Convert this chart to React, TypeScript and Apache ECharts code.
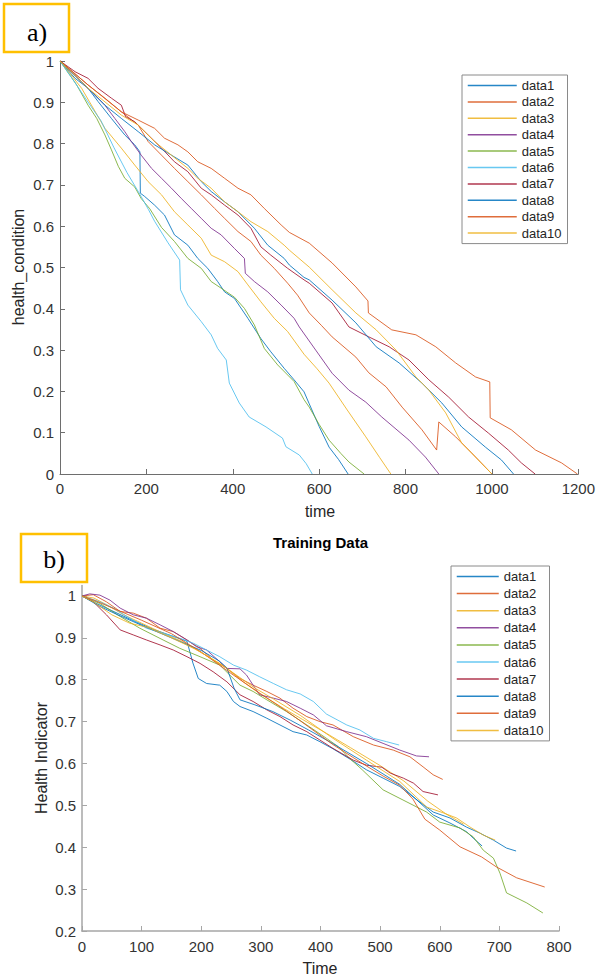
import React, { useEffect, useRef } from 'react';
import * as echarts from 'echarts';

const FONT = "'Liberation Sans', Arial, Helvetica, sans-serif";
const SERIF = "'Liberation Serif', 'DejaVu Serif', serif";
const COLORS = ['#0072BD', '#D95319', '#EDB120', '#7E2F8E', '#77AC30', '#4DBEEE', '#A2142F', '#0072BD', '#D95319', '#EDB120'];
const NAMES = ['data1', 'data2', 'data3', 'data4', 'data5', 'data6', 'data7', 'data8', 'data9', 'data10'];

const bottomYTicks = [0.2, 0.3, 0.4, 0.5, 0.6, 0.7, 0.8, 0.9, 1.0];

// ---------- panel a) ----------
const topData1 = [[0,1],[35,0.958],[65,0.934],[88,0.902],[119,0.861],[150,0.821],[173,0.797],[185,0.780],[186,0.680],[196,0.672],[219,0.651],[242,0.627],[265,0.579],[296,0.554],[319,0.522],[342,0.498],[365,0.466],[381,0.441],[404,0.425],[435,0.377],[465,0.328],[488,0.296],[519,0.256],[542,0.228],[565,0.199],[577,0.170],[600,0.115],[623,0.065],[645,0.035],[667,0]];
const topData2 = [[0,1],[65,0.942],[142,0.877],[181,0.845],[204,0.805],[235,0.772],[265,0.740],[296,0.708],[327,0.676],[358,0.643],[381,0.619],[412,0.587],[442,0.563],[465,0.530],[496,0.498],[527,0.462],[550,0.433],[577,0.390],[605,0.360],[630,0.332],[685,0.283],[715,0.245],[755,0.211],[792,0.162],[838,0.107],[872,0.058],[877,0.126],[916,0.090],[953,0.051],[1000,0]];
const topData3 = [[0,1],[50,0.934],[104,0.837],[142,0.789],[173,0.748],[204,0.708],[235,0.676],[265,0.635],[296,0.603],[327,0.571],[350,0.530],[381,0.514],[412,0.490],[435,0.458],[465,0.417],[496,0.377],[527,0.345],[565,0.290],[595,0.255],[623,0.220],[665,0.155],[708,0.090],[740,0.040],[766,0]];
const topData4 = [[0,1],[65,0.934],[104,0.893],[127,0.861],[150,0.829],[165,0.805],[188,0.772],[212,0.740],[235,0.716],[258,0.692],[281,0.667],[304,0.643],[327,0.619],[350,0.595],[373,0.579],[404,0.546],[427,0.522],[429,0.486],[450,0.466],[481,0.441],[512,0.409],[542,0.377],[554,0.356],[592,0.300],[630,0.244],[669,0.203],[708,0.174],[745,0.138],[808,0.082],[846,0.041],[877,0]];
const topData5 = [[0,1],[38,0.943],[65,0.893],[85,0.861],[104,0.821],[119,0.785],[135,0.745],[150,0.716],[173,0.695],[188,0.667],[208,0.642],[235,0.597],[265,0.563],[296,0.522],[327,0.498],[350,0.466],[373,0.450],[404,0.428],[427,0.401],[450,0.361],[473,0.304],[504,0.264],[542,0.224],[565,0.180],[577,0.162],[600,0.120],[623,0.082],[650,0.050],[669,0.029],[704,0]];
const topData6 = [[0,1],[30,0.955],[62,0.905],[95,0.855],[125,0.790],[155,0.730],[185,0.677],[205,0.640],[219,0.612],[250,0.560],[277,0.518],[279,0.446],[296,0.409],[327,0.369],[350,0.337],[365,0.304],[385,0.276],[392,0.220],[415,0.172],[438,0.138],[477,0.114],[515,0.087],[523,0.066],[554,0.046],[570,0.025],[584,0]];
const topData7 = [[0,1],[35,0.974],[65,0.958],[88,0.934],[119,0.910],[142,0.893],[152,0.865],[173,0.853],[204,0.821],[235,0.789],[265,0.756],[296,0.732],[327,0.692],[350,0.676],[381,0.651],[412,0.627],[442,0.595],[465,0.550],[488,0.530],[527,0.498],[565,0.470],[577,0.462],[630,0.414],[669,0.356],[715,0.332],[762,0.308],[808,0.276],[854,0.228],[900,0.186],[946,0.138],[992,0.099],[1038,0.058],[1068,0.027],[1100,0]];
const topData8 = [[0,1],[65,0.934],[104,0.893],[142,0.861],[181,0.829],[219,0.797],[258,0.772],[296,0.748],[327,0.708],[350,0.684],[381,0.659],[412,0.635],[450,0.595],[481,0.554],[519,0.522],[531,0.506],[565,0.476],[577,0.470],[630,0.421],[685,0.366],[732,0.308],[785,0.269],[838,0.220],[884,0.172],[930,0.114],[985,0.065],[1022,0.034],[1050,0]];
const topData9 = [[0,1],[65,0.942],[104,0.910],[142,0.877],[181,0.857],[219,0.837],[242,0.813],[273,0.797],[296,0.780],[319,0.756],[350,0.740],[381,0.716],[412,0.692],[442,0.676],[473,0.643],[512,0.603],[531,0.585],[577,0.559],[630,0.511],[685,0.453],[713,0.419],[714,0.390],[768,0.349],[824,0.337],[870,0.308],[916,0.269],[962,0.235],[995,0.223],[996,0.136],[1045,0.107],[1101,0.058],[1161,0.027],[1198,0]];
const topData10 = [[0,1],[65,0.934],[142,0.869],[181,0.845],[219,0.805],[258,0.772],[296,0.740],[319,0.716],[350,0.692],[381,0.659],[412,0.635],[442,0.611],[481,0.587],[519,0.554],[531,0.542],[577,0.501],[630,0.446],[685,0.390],[732,0.349],[778,0.300],[824,0.235],[854,0.203],[893,0.148],[930,0.075],[962,0.041],[1000,0]];

// ---------- panel b) ----------
const bottomData1 = [[0,1],[20,0.985],[50,0.965],[80,0.945],[120,0.920],[150,0.905],[176,0.892],[186,0.840],[195,0.803],[209,0.791],[231,0.787],[243,0.772],[254,0.748],[265,0.736],[287,0.724],[310,0.708],[332,0.692],[354,0.676],[377,0.668],[399,0.652],[421,0.635],[450,0.610],[477,0.585],[505,0.565],[533,0.545],[560,0.515],[589,0.477],[617,0.458],[645,0.437],[656,0.422],[671,0.403]];
const bottomData2 = [[0,1],[19,1.003],[41,0.986],[64,0.963],[86,0.959],[108,0.947],[131,0.923],[153,0.915],[176,0.895],[198,0.875],[220,0.847],[243,0.827],[265,0.803],[287,0.787],[310,0.772],[332,0.756],[354,0.732],[377,0.712],[399,0.700],[421,0.692],[455,0.664],[489,0.644],[522,0.632],[550,0.616],[572,0.592],[589,0.573],[605,0.562]];
const bottomData3 = [[0,1],[20,0.995],[40,0.980],[70,0.955],[100,0.935],[130,0.915],[170,0.890],[200,0.865],[240,0.830],[270,0.795],[300,0.765],[340,0.730],[370,0.705],[410,0.672],[450,0.638],[500,0.595],[540,0.558],[580,0.510],[610,0.480],[640,0.455]];
const bottomData4 = [[0,1],[13,1.005],[30,1.002],[47,0.990],[64,0.971],[86,0.955],[108,0.947],[131,0.931],[153,0.915],[176,0.895],[192,0.879],[209,0.871],[231,0.843],[243,0.827],[265,0.826],[276,0.811],[287,0.787],[298,0.764],[321,0.756],[343,0.748],[366,0.732],[388,0.716],[410,0.690],[444,0.676],[477,0.664],[505,0.648],[533,0.632],[561,0.618],[582,0.616]];
const bottomData5 = [[0,1],[30,0.982],[64,0.951],[97,0.923],[136,0.895],[164,0.875],[198,0.855],[231,0.835],[265,0.787],[287,0.772],[310,0.752],[343,0.724],[377,0.692],[410,0.660],[430,0.640],[449,0.612],[470,0.585],[505,0.537],[545,0.508],[578,0.484],[600,0.460],[634,0.446],[656,0.425],[673,0.393],[690,0.374],[701,0.338],[712,0.291],[746,0.267],[773,0.243]];
const bottomData6 = [[0,1],[30,0.986],[53,0.971],[80,0.947],[108,0.923],[136,0.911],[164,0.899],[187,0.887],[209,0.871],[231,0.855],[254,0.835],[276,0.823],[298,0.807],[321,0.791],[343,0.776],[366,0.766],[388,0.748],[410,0.718],[444,0.692],[466,0.680],[489,0.660],[511,0.652],[532,0.644]];
const bottomData7 = [[0,1],[19,0.986],[41,0.955],[64,0.919],[86,0.907],[108,0.895],[131,0.883],[153,0.871],[176,0.855],[198,0.839],[220,0.819],[243,0.795],[265,0.764],[287,0.748],[310,0.728],[332,0.712],[354,0.692],[377,0.676],[399,0.656],[421,0.636],[455,0.608],[477,0.596],[503,0.591],[517,0.577],[539,0.565],[556,0.553],[572,0.533],[597,0.525]];
const bottomData8 = [[0,1],[30,0.975],[60,0.955],[100,0.930],[150,0.900],[200,0.870],[230,0.845],[243,0.828],[255,0.780],[265,0.752],[290,0.740],[320,0.724],[350,0.703],[380,0.680],[420,0.648],[477,0.600],[533,0.550],[560,0.515],[589,0.484],[617,0.470],[645,0.448],[667,0.434],[690,0.417],[712,0.398],[728,0.391]];
const bottomData9 = [[0,1],[20,0.990],[50,0.972],[100,0.942],[150,0.910],[200,0.866],[250,0.815],[300,0.766],[340,0.728],[366,0.702],[421,0.645],[477,0.594],[505,0.570],[533,0.548],[555,0.515],[575,0.467],[600,0.441],[634,0.401],[670,0.377],[695,0.353],[729,0.327],[776,0.305]];
const bottomData10 = [[0,1],[20,0.985],[50,0.955],[80,0.935],[110,0.925],[150,0.900],[190,0.873],[230,0.840],[260,0.810],[290,0.780],[320,0.755],[366,0.715],[421,0.660],[477,0.608],[533,0.557],[578,0.496],[606,0.482],[628,0.470],[651,0.448],[673,0.429],[693,0.417]];

const topSets = [topData1, topData2, topData3, topData4, topData5, topData6, topData7, topData8, topData9, topData10];
const bottomSets = [bottomData1, bottomData2, bottomData3, bottomData4, bottomData5, bottomData6, bottomData7, bottomData8, bottomData9, bottomData10];

const fmtY = (v: number) => String(Math.round(v * 10) / 10);
const fmtX = (v: number) => String(Math.round(v));

function buildOption() {
  const mkSeries = (sets: number[][][], idx: number) =>
    sets.map((d, i) => ({
      name: NAMES[i],
      type: 'line',
      xAxisIndex: idx,
      yAxisIndex: idx,
      data: d,
      symbol: 'none',
      color: COLORS[i],
      lineStyle: { width: 1, color: COLORS[i], opacity: 0.85 },
      emphasis: { disabled: true },
    }));

  const axisCommon = (color: string, w: number) => ({
    axisLine: { show: true, lineStyle: { color, width: w } },
    axisTick: { show: true, inside: true, length: 5, lineStyle: { color, width: 1 } },
    splitLine: { show: false },
  });
  const labelCommon = { color: '#333', fontSize: 15, fontFamily: FONT };

  const legendData = NAMES.map((n, i) => ({
    name: n,
    itemStyle: { opacity: 0 },
    lineStyle: { color: COLORS[i], width: 1.5, opacity: 0.85 },
  }));

  const legendCommon = {
    orient: 'vertical',
    itemHeight: 14,
    padding: [4, 6, 4, 5],
    borderColor: '#8a8a8a',
    borderWidth: 1,
    backgroundColor: '#fff',
    selectedMode: false,
    textStyle: { fontSize: 13, color: '#262626', fontFamily: FONT },
    data: legendData,
  };

  const text = (t: string, x: number, y: number, size: number, extra: any = {}) => ({
    type: 'text',
    x,
    y,
    rotation: extra.rotation || 0,
    style: {
      text: t,
      fontSize: size,
      fontFamily: extra.family || FONT,
      fontWeight: extra.weight || 'normal',
      fill: extra.fill || '#262626',
      align: 'center',
      verticalAlign: 'middle',
    },
  });

  return {
    animation: false,
    backgroundColor: '#fff',
    grid: [
      { left: 60, top: 61, width: 520, height: 413 },
      { left: 82, top: 585.5, width: 477, height: 345.5 },
    ],
    xAxis: [
      { type: 'value', gridIndex: 0, min: 0, max: 1200, interval: 200, ...axisCommon('#6e6e6e', 1), axisLabel: { ...labelCommon, margin: 7, formatter: fmtX } },
      { type: 'value', gridIndex: 1, min: 0, max: 800, interval: 100, ...axisCommon('#a6a6a6', 1.5), axisLabel: { ...labelCommon, margin: 8, formatter: fmtX } },
    ],
    yAxis: [
      { type: 'value', gridIndex: 0, min: 0, max: 1, interval: 0.1, ...axisCommon('#6e6e6e', 1), axisLabel: { ...labelCommon, margin: 6, formatter: fmtY } },
      {
        type: 'value', gridIndex: 1, min: 0.2, max: 1.025, interval: 0.1,
        axisLine: { show: true, lineStyle: { color: '#a6a6a6', width: 1.5 } },
        axisTick: { show: true, inside: true, length: 5, customValues: bottomYTicks, lineStyle: { color: '#a6a6a6', width: 1 } },
        splitLine: { show: false },
        axisLabel: { ...labelCommon, margin: 6, formatter: fmtY, customValues: bottomYTicks },
      },
    ],
    legend: [
      { ...legendCommon, left: 462, top: 75, itemWidth: 49, itemGap: 3.4 },
      { ...legendCommon, left: 451, top: 566, itemWidth: 42, itemGap: 4.1 },
    ],
    series: [...mkSeries(topSets, 0), ...mkSeries(bottomSets, 1)],
    graphic: [
      { type: 'rect', shape: { x: 4, y: 4, width: 65, height: 48 }, style: { fill: '#fff', stroke: '#FFC000', lineWidth: 2.5 } },
      text('a)', 37, 32, 26, { family: SERIF, fill: '#000' }),
      { type: 'rect', shape: { x: 21, y: 534, width: 66, height: 48 }, style: { fill: '#fff', stroke: '#FFC000', lineWidth: 2.5 } },
      text('b)', 54, 559, 26, { family: SERIF, fill: '#000' }),
      text('time', 320, 511, 16),
      text('health_condition', 18, 267, 16, { rotation: Math.PI / 2 }),
      text('Training Data', 320.5, 542, 15, { weight: 'bold', fill: '#000' }),
      text('Time', 320, 968, 16),
      text('Health Indicator', 41, 758, 16, { rotation: Math.PI / 2 }),
    ],
  };
}

export default function App() {
  const ref = useRef<HTMLDivElement>(null);
  useEffect(() => {
    document.body.style.margin = '0';
    const chart = echarts.init(ref.current as HTMLDivElement, null, { renderer: 'svg' });
    chart.setOption(buildOption() as any);
    return () => chart.dispose();
  }, []);
  return (
    <div
      ref={ref}
      style={{ position: 'absolute', left: 0, top: 0, width: 598, height: 979, background: '#fff' }}
    />
  );
}
